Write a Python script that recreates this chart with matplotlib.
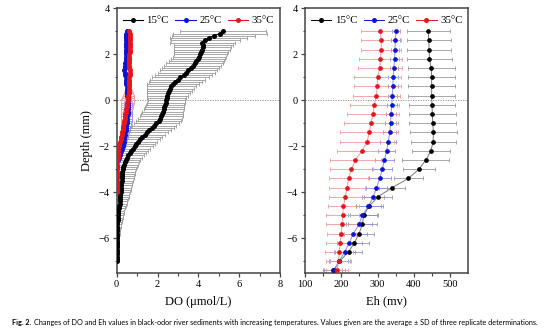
import numpy as np
import matplotlib
matplotlib.use("Agg")
import matplotlib.pyplot as plt

plt.rcParams['font.family'] = ['Liberation Serif', 'DejaVu Serif']
plt.rcParams['mathtext.fontset'] = 'stix'

# DO profiles, 0.1 mm steps from 3.0 mm downward
depth_do15 = np.round(np.arange(3.0, -7.05, -0.1), 1)
do15 = [5.20, 5.05, 4.75, 4.50, 4.35, 4.20, 4.25, 4.22, 4.18, 4.14,
        4.10, 4.05, 3.98, 3.90, 3.82, 3.72, 3.62, 3.50, 3.40, 3.28,
        3.12, 3.00, 2.86, 2.76, 2.68, 2.62, 2.57, 2.52, 2.48, 2.46,
        2.44, 2.41, 2.38, 2.34, 2.30, 2.26, 2.22, 2.18, 2.13, 2.05,
        1.95, 1.83, 1.71, 1.60, 1.48, 1.37, 1.26, 1.15, 1.05, 0.96,
        0.88, 0.80, 0.72, 0.64, 0.57, 0.50, 0.44, 0.39, 0.35, 0.32,
        0.30, 0.28, 0.27, 0.26, 0.25, 0.24, 0.23, 0.22, 0.21, 0.20,
        0.19, 0.18, 0.17, 0.16, 0.15, 0.14, 0.12, 0.10, 0.08, 0.07,
        0.06, 0.05, 0.05, 0.04, 0.04, 0.04, 0.04, 0.03, 0.03, 0.03,
        0.03, 0.03, 0.02, 0.02, 0.02, 0.02, 0.02, 0.01, 0.01, 0.01,
        0.01]
sd15 = [2.10, 2.30, 2.05, 1.90, 1.70, 1.60, 1.45, 1.40, 1.35, 1.32,
        1.30, 1.30, 1.32, 1.35, 1.38, 1.40, 1.40, 1.40, 1.40, 1.40,
        1.40, 1.35, 1.30, 1.25, 1.20, 1.15, 1.10, 1.05, 1.00, 0.95,
        0.92, 0.92, 0.94, 0.96, 0.98, 1.00, 1.02, 1.05, 1.08, 1.10,
        1.12, 1.10, 1.08, 1.05, 1.02, 1.00, 0.98, 0.95, 0.92, 0.90,
        0.88, 0.85, 0.82, 0.80, 0.77, 0.75, 0.72, 0.70, 0.68, 0.66,
        0.64, 0.62, 0.61, 0.60, 0.58, 0.56, 0.54, 0.52, 0.50, 0.48,
        0.46, 0.44, 0.42, 0.40, 0.38, 0.36, 0.34, 0.32, 0.30, 0.28,
        0.26, 0.24, 0.22, 0.20, 0.18, 0.16, 0.14, 0.12, 0.11, 0.10,
        0.09, 0.08, 0.07, 0.06, 0.05, 0.04, 0.03, 0.02, 0.01, 0.01,
        0.0]

depth_do25 = np.round(np.arange(3.0, -2.65, -0.1), 1)
do25 = [0.50, 0.48, 0.47, 0.46, 0.45, 0.45, 0.44, 0.44, 0.45, 0.46,
        0.46, 0.45, 0.44, 0.44, 0.43, 0.42, 0.40, 0.38, 0.40, 0.43,
        0.45, 0.46, 0.47, 0.48, 0.49, 0.50, 0.51, 0.52, 0.53, 0.54,
        0.55, 0.55, 0.56, 0.56, 0.55, 0.55, 0.54, 0.53, 0.52, 0.51,
        0.50, 0.48, 0.46, 0.44, 0.42, 0.40, 0.38, 0.36, 0.34, 0.32,
        0.30, 0.26, 0.22, 0.18, 0.14, 0.10, 0.07]
sd25 = [0.05] * 26 + [0.08, 0.10, 0.12, 0.14, 0.16,
        0.18, 0.19, 0.20, 0.21, 0.22, 0.22, 0.22, 0.22, 0.22, 0.21,
        0.20, 0.20, 0.19, 0.18, 0.17, 0.16, 0.15, 0.14, 0.12, 0.10,
        0.08, 0.07, 0.06, 0.05, 0.04, 0.03]

depth_do35 = np.round(np.arange(3.0, -4.05, -0.1), 1)
do35 = [0.62, 0.64, 0.66, 0.66, 0.65, 0.64, 0.65, 0.66, 0.65, 0.63,
        0.62, 0.62, 0.61, 0.60, 0.60, 0.61, 0.62, 0.63, 0.64, 0.63,
        0.62, 0.62, 0.61, 0.61, 0.60, 0.60, 0.59, 0.58, 0.57, 0.56,
        0.55, 0.53, 0.51, 0.49, 0.47, 0.45, 0.43, 0.41, 0.39, 0.37,
        0.35, 0.33, 0.31, 0.29, 0.27, 0.25, 0.22, 0.19, 0.16, 0.13,
        0.10, 0.08, 0.07, 0.06, 0.05, 0.05, 0.04, 0.04, 0.04, 0.03,
        0.03, 0.03, 0.03, 0.03, 0.02, 0.02, 0.02, 0.02, 0.02, 0.02,
        0.02]
sd35 = [0.05] * 25 + [0.10, 0.16, 0.22, 0.26, 0.30, 0.32,
        0.32, 0.31, 0.30, 0.28, 0.26, 0.24, 0.22, 0.20, 0.18, 0.16,
        0.14, 0.12, 0.10, 0.09, 0.08, 0.07, 0.06, 0.05, 0.05, 0.04] + [0.03] * 20

# Eh profiles, 0.4 mm steps
depth_eh = np.round(np.arange(3.0, -7.45, -0.4), 1)
eh15 = [440, 441, 442, 443, 448, 449, 449, 449, 450, 451, 452, 454, 453, 447,
        433, 414, 385, 340, 301, 277, 262, 258, 249, 236, 220, 195, 178]
eh25 = [351, 349, 348, 347, 345, 343, 342, 341, 339, 337, 336, 334, 329, 325,
        319, 313, 306, 297, 288, 275, 258, 249, 233, 222, 209, 194, 181]
eh35 = [308, 310, 310, 308, 306, 300, 299, 297, 291, 287, 282, 277, 271, 257,
        239, 228, 220, 216, 211, 206, 204, 202, 200, 197, 194, 193, 188]
sd_eh15 = [60, 60, 60, 62, 64, 64, 64, 64, 64, 65, 65, 66, 62, 53,
           65, 43, 40, 35, 38, 37, 38, 40, 42, 40, 38, 30, 25]
sd_eh25 = [12, 12, 12, 12, 12, 13, 13, 13, 14, 15, 16, 18, 22, 23,
           25, 28, 30, 30, 30, 35, 40, 35, 38, 35, 30, 25, 30]
sd_eh35 = [55, 55, 55, 58, 60, 65, 65, 65, 68, 72, 75, 80, 75, 70,
           70, 60, 55, 50, 45, 42, 45, 45, 40, 40, 38, 35, 30]

labels = ['15°C', '25°C', '35°C']
colors = ['#000000', '#0a14d2', '#e8141c']
err_colors = ['#9a9a9a', '#8c8cf0', '#f29a9a']

fig = plt.figure(figsize=(5.54, 3.32), dpi=100)
ax1 = fig.add_axes([0.2106, 0.1786, 0.2948, 0.7964])
ax2 = fig.add_axes([0.5505, 0.1786, 0.2948, 0.7964])

do_sets = [(depth_do15, do15, sd15), (depth_do25, do25, sd25), (depth_do35, do35, sd35)]
for (d, v, s), lab, c, ec in zip(do_sets, labels, colors, err_colors):
    ax1.errorbar(v, d, xerr=s, fmt='none', ecolor=ec, elinewidth=0.6,
                 capsize=1.5, capthick=0.6, zorder=2)
for (d, v, s), lab, c in zip(do_sets, labels, colors):
    ax1.plot(v, d, '-o', color=c, ms=3.6, lw=0.8, mew=0, label=lab, zorder=3)

eh_sets = [(eh15, sd_eh15), (eh25, sd_eh25), (eh35, sd_eh35)]
for (v, s), lab, c, ec in zip(eh_sets, labels, colors, err_colors):
    ax2.errorbar(v, depth_eh, xerr=s, fmt='none', ecolor=ec, elinewidth=0.6,
                 capsize=1.4, capthick=0.6, zorder=2)
for (v, s), lab, c, ec in zip(eh_sets, labels, colors, err_colors):
    ax2.plot(v, depth_eh, '-', color=ec if c != '#000000' else '#777777', lw=0.7, zorder=3)
    ax2.plot(v, depth_eh, 'o', color=c, ms=3.4, mew=0, zorder=4)
    ax2.plot([], [], '-o', color=c, ms=3.6, mew=0, lw=0.7, label=lab)

for ax in (ax1, ax2):
    ax.set_ylim(-7.5, 4)
    ax.set_yticks([-6, -4, -2, 0, 2, 4])
    ax.set_yticks([-7, -5, -3, -1, 1, 3], minor=True)
    ax.axhline(0, color='#888888', lw=0.6, ls=(0, (1.5, 1.5)), zorder=1)
    for sp in ax.spines.values():
        sp.set_color('#444444')
        sp.set_linewidth(1.1)
    ax.tick_params(which='major', direction='out', length=3, width=0.9,
                   color='#444444', labelsize=7.5, pad=2)
    ax.tick_params(which='minor', direction='out', length=1.8, width=0.8,
                   color='#444444')
    ax.legend(loc='upper center', ncol=3, frameon=False, fontsize=7.8,
              handlelength=1.9, handletextpad=0.3, columnspacing=0.6,
              borderaxespad=0.3)

ax1.set_xlim(0, 8)
ax1.set_xticks([0, 2, 4, 6, 8])
ax1.set_xticks([1, 3, 5, 7], minor=True)
ax1.set_xlabel('DO (μmol/L)', fontsize=9, labelpad=5)
ax1.set_ylabel('Depth (mm)', fontsize=9, labelpad=4)

ax2.set_xlim(100, 550)
ax2.set_xticks([100, 200, 300, 400, 500])
ax2.set_xticks([150, 250, 350, 450], minor=True)
ax2.set_xlabel('Eh (mv)', fontsize=9, labelpad=5)

cap_font = ['Lato', 'DejaVu Sans']
t1 = fig.text(0.022, 0.02, 'Fig. 2.', fontsize=5.25, fontweight='bold', family=cap_font)
fig.canvas.draw()
bb = t1.get_window_extent()
fig.text(bb.x1 / fig.bbox.width + 0.004, 0.02,
         'Changes of DO and Eh values in black-odor river sediments with increasing temperatures. '
         'Values given are the average ± SD of three replicate determinations.',
         fontsize=5.25, family=cap_font)

fig.savefig('out.png', dpi=100)
